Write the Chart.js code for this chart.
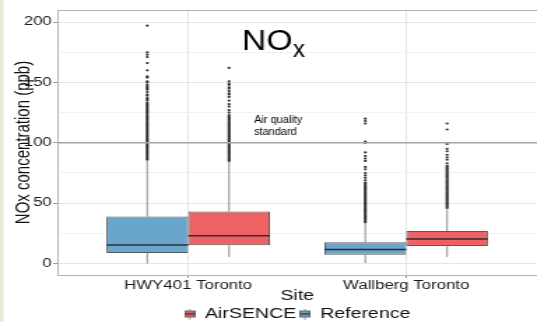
<!DOCTYPE html>
<html>
<head>
<meta charset="utf-8">
<script src="https://cdn.jsdelivr.net/npm/chart.js@4.4.0/dist/chart.umd.min.js"></script>
<style>
  html, body { margin: 0; padding: 0; background: #fff; overflow: hidden; }
  canvas { display: block; }
</style>
</head>
<body>
<!-- the source image is stretched sideways, so the canvas is drawn narrow and shown wide -->
<canvas id="noxChart" width="384" height="322" style="width:537px;height:322px"></canvas>
<script>
// values, ppb
var sites = ['HWY401 Toronto', 'Wallberg Toronto'];
var siteX = [1, 2];
var yTicks = [0, 25, 50, 75, 100, 125, 150, 175, 200];
var airStandard = 100;

var refLow = [0, 0.5];
var refQ1 = [8.8, 7.2];
var refMed = [15.4, 11.6];
var refQ3 = [39, 17.6];
var refHigh = [85, 33];

var airLow = [5.5, 5.5];
var airQ1 = [15.2, 14.6];
var airMed = [23.1, 20.4];
var airQ3 = [43, 27];
var airHigh = [84, 45];

var refOutHwy = [197, 175, 173, 171, 166, 160, 155, 154, 151, 150, 148, 147, 146, 145, 144, 142, 140, 139, 137, 136,
  135, 133, 132, 131, 130, 129, 128, 127, 126, 125, 124, 123, 122, 121, 120, 119, 118, 117, 116, 115, 114, 113, 112,
  111, 110, 109, 108, 107, 106, 105, 104, 103, 102, 101, 100, 99, 98, 97, 96, 95, 94, 93, 92, 91, 90, 89, 88, 87, 86];
var airOutHwy = [162, 151, 149, 148, 146, 145, 143, 141, 140, 138, 135, 132, 130, 127, 125, 123, 122, 121, 120, 119,
  118, 117, 116, 115, 114, 113, 112, 111, 110, 109, 108, 107, 106, 105, 104, 103, 102, 101, 100, 99, 98, 97, 96, 95,
  94, 93, 92, 91, 90, 89, 88, 87, 86, 85];
var refOutWal = [120, 118, 116, 101, 100, 92, 89, 87, 85, 80, 78, 75, 73, 71, 69, 67, 66, 65, 64, 63, 62, 61, 60, 59,
  58, 57, 56, 55, 54, 53, 52, 51, 50, 49, 48, 47, 46, 45, 44, 43, 42, 41, 40, 39, 38, 37, 36, 35, 34];
var airOutWal = [116, 111, 99, 95, 93, 90, 88, 86, 83, 81, 80, 79, 78, 77, 76, 75, 74, 73, 72, 71, 70, 69, 68, 67, 66,
  65, 64, 63, 62, 61, 60, 59, 58, 57, 56, 55, 54, 53, 52, 51, 50, 49, 48, 47, 46];

var FONT = "'Liberation Sans', Arial, sans-serif";
var STRETCH = 537 / 384;
Chart.defaults.font.family = FONT;

function legendIcon(fill) {
  var cv = document.createElement('canvas');
  cv.width = 8; cv.height = 11;
  var g = cv.getContext('2d');
  g.strokeStyle = '#9a9a9a'; g.lineWidth = 1;
  g.beginPath(); g.moveTo(4, 0); g.lineTo(4, 11); g.stroke();
  g.fillStyle = fill; g.fillRect(0.5, 2.5, 7, 6);
  g.strokeStyle = '#666'; g.strokeRect(0.5, 2.5, 7, 6);
  g.strokeStyle = '#333'; g.lineWidth = 1.4;
  g.beginPath(); g.moveTo(0.5, 5.5); g.lineTo(7.5, 5.5); g.stroke();
  return cv;
}

function plainText(c, txt, x, y, size, sx) {
  c.save();
  c.translate(x, y);
  c.scale(sx, 1);
  c.font = size + 'px ' + FONT;
  c.fillStyle = '#000';
  c.textBaseline = 'alphabetic';
  c.fillText(txt, 0, 0);
  c.restore();
}

var boxExtras = {
  id: 'boxExtras',
  beforeDraw: function (chart) {
    var c = chart.ctx;
    c.save();
    c.fillStyle = '#fff';
    c.fillRect(0, 0, chart.width, chart.height);
    c.fillStyle = '#e8e9d7';
    c.fillRect(0, 0, 2.5, chart.height);
    c.restore();
  },
  beforeDatasetsDraw: function (chart) {
    var c = chart.ctx, y = chart.scales.y, a = chart.chartArea;
    c.save();
    chart.data.datasets.forEach(function (ds, di) {
      var meta = chart.getDatasetMeta(di);
      meta.data.forEach(function (bar, i) {
        var s = ds.stats;
        c.strokeStyle = '#999';
        c.lineWidth = 1.1;
        c.beginPath();
        c.moveTo(bar.x, y.getPixelForValue(s.low[i]));
        c.lineTo(bar.x, y.getPixelForValue(s.q1[i]));
        c.moveTo(bar.x, y.getPixelForValue(s.q3[i]));
        c.lineTo(bar.x, y.getPixelForValue(s.high[i]));
        c.stroke();
        c.fillStyle = '#2e2e2e';
        s.out[i].forEach(function (v) {
          c.beginPath();
          c.arc(bar.x, y.getPixelForValue(v), 1.1, 0, Math.PI * 2);
          c.fill();
        });
      });
    });
    // air quality standard
    var py = y.getPixelForValue(airStandard);
    c.strokeStyle = '#a5a5a5';
    c.lineWidth = 1.6;
    c.beginPath();
    c.moveTo(a.left, py);
    c.lineTo(a.right, py);
    c.stroke();
    c.restore();
  },
  afterDatasetsDraw: function (chart) {
    var c = chart.ctx, y = chart.scales.y, a = chart.chartArea;
    c.save();
    chart.data.datasets.forEach(function (ds, di) {
      var meta = chart.getDatasetMeta(di);
      meta.data.forEach(function (bar, i) {
        var py = y.getPixelForValue(ds.stats.med[i]);
        c.strokeStyle = '#2f2f2f';
        c.lineWidth = 1.5;
        c.beginPath();
        c.moveTo(bar.x - bar.width / 2, py);
        c.lineTo(bar.x + bar.width / 2, py);
        c.stroke();
      });
    });
    // panel top edge
    c.strokeStyle = '#b3b3b3';
    c.lineWidth = 1;
    c.beginPath();
    c.moveTo(a.left, a.top + 0.5);
    c.lineTo(a.right, a.top + 0.5);
    c.stroke();
    c.restore();

    // slide annotations (not stretched)
    plainText(c, 'NO', 242 / STRETCH, 49.5, 29, 1.16 / STRETCH);
    plainText(c, 'x', 293 / STRETCH, 57, 24, 1 / STRETCH);
    plainText(c, 'Air quality', 254 / STRETCH, 123, 11, 1 / STRETCH);
    plainText(c, 'standard', 254 / STRETCH, 135, 11, 1 / STRETCH);
  }
};

function boxData(q1, q3) {
  return siteX.map(function (x, i) { return { x: x, y: [q1[i], q3[i]] }; });
}

var ctx = document.getElementById('noxChart').getContext('2d');
var noxChart = new Chart(ctx, {
  type: 'bar',
  data: {
    datasets: [{
      label: 'Reference',
      data: boxData(refQ1, refQ3),
      backgroundColor: '#6aa5cd',
      borderColor: '#5b5b5b',
      borderWidth: 1,
      borderSkipped: false,
      categoryPercentage: 0.75,
      barPercentage: 1,
      stats: { low: refLow, q1: refQ1, med: refMed, q3: refQ3, high: refHigh, out: [refOutHwy, refOutWal] }
    }, {
      label: 'AirSENCE',
      data: boxData(airQ1, airQ3),
      backgroundColor: '#ee6266',
      borderColor: '#5b5b5b',
      borderWidth: 1,
      borderSkipped: false,
      categoryPercentage: 0.75,
      barPercentage: 1,
      stats: { low: airLow, q1: airQ1, med: airMed, q3: airQ3, high: airHigh, out: [airOutHwy, airOutWal] }
    }]
  },
  options: {
    responsive: false,
    devicePixelRatio: 1,
    animation: false,
    events: [],
    layout: { padding: { top: 10, right: 0, bottom: -9, left: 0 } },
    scales: {
      x: {
        type: 'linear',
        min: 0.4,
        max: 2.6,
        offset: false,
        afterFit: function (s) { s.height = 30; },
        afterBuildTicks: function (s) { s.ticks = siteX.map(function (v) { return { value: v }; }); },
        ticks: {
          padding: 0,
          color: '#1a1a1a',
          maxRotation: 0,
          autoSkip: false,
          font: { size: 12 },
          callback: function (v) { return sites[siteX.indexOf(v)]; }
        },
        grid: { offset: false, color: '#e6e6e6', tickLength: 3, tickColor: '#9a9a9a' },
        border: { color: '#b3b3b3' },
        title: {
          display: true,
          text: 'Site',
          color: '#111',
          font: { size: 14 },
          padding: { top: 0, bottom: 0 }
        }
      },
      y: {
        min: -9.5,
        max: 210,
        afterFit: function (s) { s.width = 41; },
        afterBuildTicks: function (s) { s.ticks = yTicks.map(function (v) { return { value: v }; }); },
        ticks: {
          padding: 1,
          color: '#1a1a1a',
          font: { size: 12 },
          callback: function (v) { return v % 50 === 0 ? v : ''; }
        },
        grid: {
          color: function (c) { return c.tick && c.tick.value % 50 ? '#f1f1f1' : '#e6e6e6'; },
          tickLength: 3,
          tickColor: function (c) { return c.tick && c.tick.value % 50 ? 'rgba(0,0,0,0)' : '#9a9a9a'; }
        },
        border: { color: '#b3b3b3' },
        title: {
          display: true,
          text: 'NOx concentration (ppb)',
          color: '#111',
          font: { size: 15 },
          padding: { top: 7.5, bottom: 0 }
        }
      }
    },
    plugins: {
      tooltip: { enabled: false },
      legend: {
        position: 'bottom',
        fullSize: false,
        reverse: true,
        labels: {
          usePointStyle: true,
          boxWidth: 8,
          padding: 2,
          color: '#111',
          font: { size: 14 },
          generateLabels: function (chart) {
            return chart.data.datasets.map(function (ds, i) {
              return {
                text: ds.label,
                pointStyle: legendIcon(ds.backgroundColor),
                datasetIndex: i,
                hidden: !chart.isDatasetVisible(i),
                fillStyle: ds.backgroundColor,
                strokeStyle: 'rgba(0,0,0,0)',
                lineWidth: 0,
                fontColor: '#111'
              };
            });
          }
        }
      }
    }
  },
  plugins: [boxExtras]
});
</script>
</body>
</html>
